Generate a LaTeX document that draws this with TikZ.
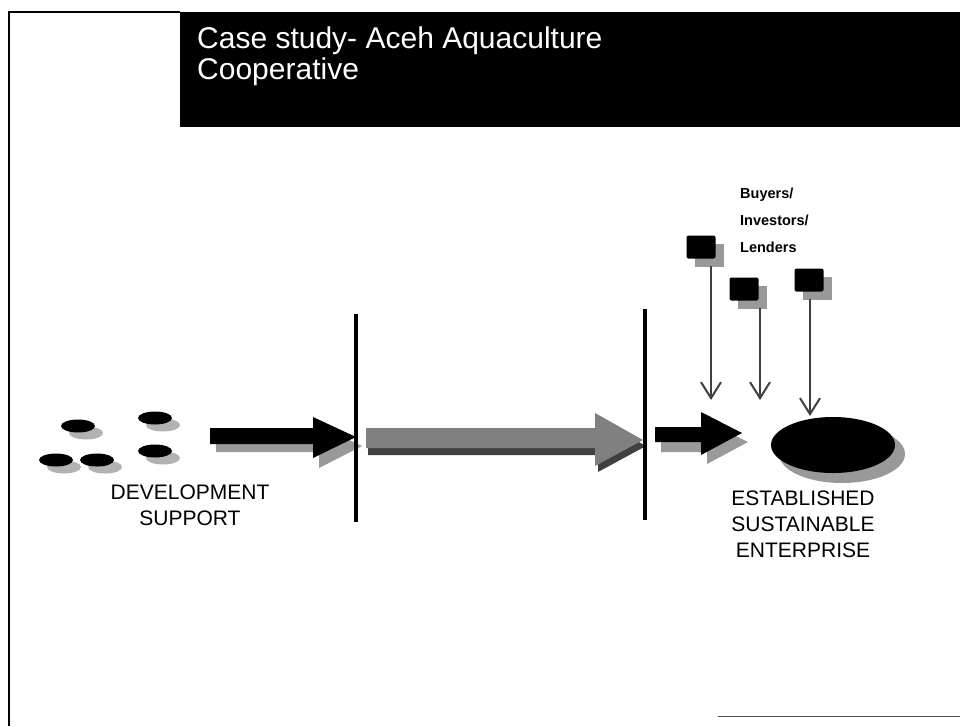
\documentclass[tikz,border=0pt]{standalone}
\usepackage{fontspec}
\setmainfont{Liberation Sans}
\usetikzlibrary{arrows.meta,shapes.geometric}
\begin{document}
\begin{tikzpicture}[x=1pt,y=-1pt,
  shad/.style={fill=black!40, draw=none},
  disc/.style={ellipse, fill=black, draw=none, minimum width=34pt, minimum height=13pt, inner sep=0},
  discshad/.style={ellipse, fill=black!30, draw=none, minimum width=34pt, minimum height=13pt, inner sep=0},
  sq/.style={fill=black, draw=none, rounded corners=2pt, minimum width=29pt, minimum height=23pt, inner sep=0},
  sqshad/.style={fill=black!40, draw=none, minimum width=29pt, minimum height=23pt, inner sep=0},
  divider/.style={line width=4pt, black},
  feed/.style={line width=2pt, black!75, -{Straight Barb[length=16pt,width=20pt,line width=2pt]}},
  label/.style={font=\fontsize{21}{26}\selectfont, align=center, inner sep=0},
  small/.style={font=\fontsize{14.5}{27}\selectfont\bfseries, align=left, inner sep=0, anchor=west}
]
\useasboundingbox (0,0) rectangle (960,726);
\fill[white] (0,0) rectangle (960,726);
% frame
\draw[line width=2pt] (9,726) -- (9,12) -- (180,12);
\draw[line width=1pt, black!70] (718,716) -- (960,716);
% title box
\fill[black] (180,12) rectangle (960,127);
\node[anchor=north west, text=white, font=\fontsize{30}{31}\selectfont, align=left, inner sep=0] (title) at (197,27) {Case study- Aceh Aquaculture\\Cooperative};

% small discs (left)
\foreach \n/\x/\y in {d1/78/426, d2/155/418, d3/56/460, d4/97/460, d5/155/451}{
  \node[discshad] at (\x+8,\y+7) {};
  \node[disc] (\n) at (\x,\y) {};
}

% arrow 1 (black)
\fill[shad] (216,436) -- (319,436) -- (319,426) -- (362,446) -- (319,468) -- (319,452) -- (216,452) -- cycle;
\fill[black] (210,428) -- (313,428) -- (313,417) -- (356,437) -- (313,458) -- (313,444) -- (210,444) -- cycle;

% divider 1
\draw[divider] (356,314) -- (356,522);

% arrow 2 (grey)
\fill[black!75] (368,434) -- (598,434) -- (598,420) -- (646,446) -- (598,472) -- (598,455) -- (368,455) -- cycle;
\fill[black!50] (366,428) -- (595,428) -- (595,413) -- (643,440) -- (595,466) -- (595,448) -- (366,448) -- cycle;

% divider 2
\draw[divider] (645,309) -- (645,520);

% arrow 3 (black)
\fill[shad] (661,436) -- (707,436) -- (707,422) -- (748,442) -- (707,464) -- (707,452) -- (661,452) -- cycle;
\fill[black] (655,427) -- (701,427) -- (701,412) -- (742,433) -- (701,455) -- (701,442) -- (655,442) -- cycle;

% enterprise disc
\node[ellipse, fill=black!40, draw=none, minimum width=126pt, minimum height=58pt, inner sep=0] at (842,454) {};
\node[ellipse, fill=black, draw=none, minimum width=124pt, minimum height=56pt, inner sep=0] (ent) at (833,445) {};

% funder squares
\foreach \n/\x/\y in {s1/701/247, s2/744/289, s3/809/280}{
  \node[sqshad] at (\x+8,\y+8) {};
  \node[sq] (\n) at (\x,\y) {};
}
\coordinate (f1) at (711,266);
\coordinate (f2) at (760,308);
\coordinate (f3) at (810,299);
\coordinate (t1) at (711,400);
\coordinate (t2) at (760,400);
\coordinate (t3) at (810,416);
\draw[feed] (f1) -- (t1);
\draw[feed] (f2) -- (t2);
\draw[feed] (f3) -- (t3);

% labels
\node[small] (buy) at (740,220) {Buyers/\\Investors/\\Lenders};
\node[label] (dev) at (190,505) {DEVELOPMENT\\SUPPORT};
\node[label] (est) at (803,524) {ESTABLISHED\\SUSTAINABLE\\ENTERPRISE};
\end{tikzpicture}
\end{document}
